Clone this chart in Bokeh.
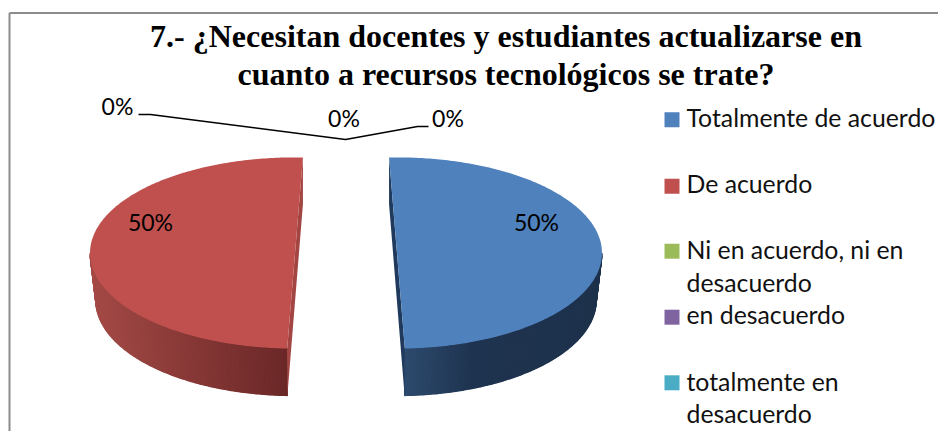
import math
from bokeh.plotting import figure
from bokeh.models import Range1d
from bokeh.core.properties import value
from bokeh.embed import file_html
from bokeh.resources import INLINE

# ---- data ----
categories = ["Totalmente de acuerdo", "De acuerdo", "Ni en acuerdo, ni en\ndesacuerdo",
              "en desacuerdo", "totalmente en\ndesacuerdo"]
shares = [50, 50, 0, 0, 0]
colors = ["#4F81BD", "#C0504D", "#9BBB59", "#8064A2", "#4BACC6"]
title_lines = ["7.- ¿Necesitan docentes y estudiantes actualizarse en",
               "cuanto a recursos tecnológicos se trate?"]

# ---- layout (pixels of the picture) ----
W, H = 938, 431
CX, CY, RX, RY = 345.5, 252.5, 205.0, 95.6
DEPTH, BOTTOM_SCALE, EXPLODE = 47.0, 0.972, 51.0
slice_start = [-2.2, 182.2, 0, 0, 0]
side_ramps = {0: [(0.0, (45, 75, 110)), (0.35, (31, 52, 80)), (1.0, (30, 50, 76))],
              1: [(0.0, (164, 74, 70)), (1.0, (107, 40, 40))]}
cut_colors = {0: "#1F3A5C", 1: "#A34643"}
label_pos = [(536, 230), (150, 230), (117, 114), (343.5, 126), (447.5, 126)]
legend_x, legend_text_x = 671.5, 686
legend_y = [119.3, 185.7, 250.7, 316.7, 382.3]
legend_line_base = [[126], [192.7], [258, 291], [323], [390, 422]]
leaders = [([138, 150, 345, 417, 428], [114, 114, 139, 126, 126])]
# Bokeh's text glyph sits below its alphabetic anchor by about this share of the font size
BASE_SHIFT = 0.38

p = figure(width=W, height=H, output_backend="svg", toolbar_location=None,
           x_range=Range1d(0, W), y_range=Range1d(H, 0),
           x_axis_location=None, y_axis_location=None, min_border=0,
           outline_line_color=None, background_fill_color="white", border_fill_color="white")
p.grid.visible = False

# frame of the original picture
p.line([9, W], [12.5, 12.5], line_color="#8C8C8C", line_width=2)
p.line([9, 9], [12.5, H], line_color="#8C8C8C", line_width=2)


def ramp(stops, f):
    for (f0, c0), (f1, c1) in zip(stops, stops[1:]):
        if f <= f1:
            k = (f - f0) / (f1 - f0)
            return "#%02x%02x%02x" % tuple(round(a + (b - a) * k) for a, b in zip(c0, c1))
    return "#%02x%02x%02x" % stops[-1][1]


def top_pt(cx, a):
    return cx + RX * math.sin(a), CY - RY * math.cos(a)


def low_pt(cx, a):
    return cx + RX * BOTTOM_SCALE * math.sin(a), CY + DEPTH - RY * math.cos(a)


total = sum(shares)
for i, s in enumerate(shares):
    if s == 0:
        continue
    sweep = 2 * math.pi * s / total
    a0 = math.radians(slice_start[i])
    a1 = a0 + sweep
    mid = (a0 + a1) / 2
    cx = CX + EXPLODE * math.sin(mid)
    n = 240
    angs = [a0 + (a1 - a0) * k / n for k in range(n + 1)]

    # outer wall: only the part facing the viewer
    front = [a for a in angs if math.cos(a) < 0.0]
    lo_x = min(low_pt(cx, a)[0] for a in front)
    hi_x = max(low_pt(cx, a)[0] for a in front)
    # one solid underlay so that no seam shows
    uu = [top_pt(cx, a) for a in front] + [low_pt(cx, a) for a in reversed(front)]
    p.patch([q[0] for q in uu], [q[1] for q in uu],
            fill_color=ramp(side_ramps[i], 0.5), line_color=None)
    xs, ys, cs = [], [], []
    for b0, b1 in zip(front, front[1:]):
        t0, t1, l0, l1 = top_pt(cx, b0), top_pt(cx, b1), low_pt(cx, b0), low_pt(cx, b1)
        xs.append([t0[0], t1[0], l1[0], l0[0]])
        ys.append([t0[1], t1[1], l1[1], l0[1]])
        cs.append(ramp(side_ramps[i], (l0[0] - lo_x) / (hi_x - lo_x)))
    p.patches(xs, ys, fill_color=cs, line_color=cs, line_width=1.2)

    # cut face towards the viewer
    ca = a0 if i == 0 else a1
    opp = ca + math.pi
    t_far, t_near = top_pt(cx, ca), top_pt(cx, opp)
    l_near = low_pt(cx, opp)
    p.patch([t_far[0], t_near[0], l_near[0], t_far[0]],
            [t_far[1], t_near[1], l_near[1], t_far[1] + DEPTH],
            fill_color=cut_colors[i], line_color=None)

    # top face
    pts = [top_pt(cx, a) for a in angs]
    p.patch([q[0] for q in pts], [q[1] for q in pts], fill_color=colors[i], line_color=None)

# leader lines
for lx, ly in leaders:
    p.line(lx, ly, line_color="black", line_width=1.5)


def put_text(x, y, txt, font, size, align, color="black", style="normal"):
    p.text(x, [v - BASE_SHIFT * size for v in y], text=txt, text_font=value(font),
           text_font_style=style, text_font_size=f"{size}px", text_color=color,
           text_align=align, text_baseline="alphabetic")


# percentage labels
put_text([q[0] for q in label_pos], [q[1] for q in label_pos], [f"{s}%" for s in shares],
         "Lato", 23, "center")

# title
put_text([505.5, 505.5], [48, 86], title_lines, "Liberation Serif", 32, "center", style="bold")

# legend
p.scatter([legend_x] * 5, legend_y, marker="square", size=15, fill_color=colors, line_color=None)
tx, ty, tt = [], [], []
for cat, bases in zip(categories, legend_line_base):
    for line, b in zip(cat.split("\n"), bases):
        tx.append(legend_text_x); ty.append(b); tt.append(line)
put_text(tx, ty, tt, "Lato", 24.8, "left", color="#111111")

open("out.html", "w").write(file_html(p, INLINE))
